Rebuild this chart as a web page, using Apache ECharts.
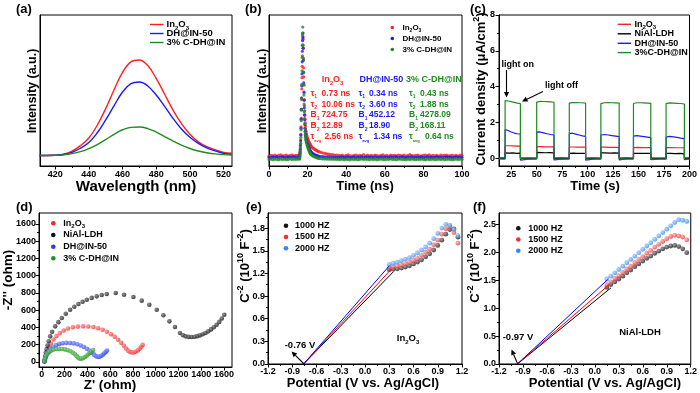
<!DOCTYPE html>
<html><head><meta charset="utf-8">
<script src="https://cdn.jsdelivr.net/npm/echarts@6/dist/echarts.min.js"></script>
<style>html,body{margin:0;padding:0;background:#fff}#c{width:700px;height:393px}</style>
</head><body><div id="c"></div>
<script>
// ================= DATA =================
// (a) steady-state PL
const plWavelength = [410,415,420,425,430,435,440,445,450,455,460,465,470,475,480,485,490,495,500,505,510,515,520,525];
const plIn2O3 = [7.0,7.0,7.1,7.8,9.8,13.5,18.5,27.0,38.0,50.5,62.0,69.0,70.2,66.5,58.0,47.5,37.0,28.0,21.0,16.0,12.8,10.8,9.0,8.4];
const plDH50  = [7.0,7.0,7.1,7.6,9.0,11.8,15.5,22.0,30.5,40.0,49.0,54.5,55.6,53.0,47.0,39.5,31.5,24.5,19.0,15.0,12.0,10.0,8.4,7.7];
const plCDH   = [7.0,7.0,7.1,7.4,8.2,9.5,11.5,14.2,17.5,21.0,24.0,25.6,25.8,24.8,22.5,19.5,16.5,13.8,11.6,9.9,8.8,8.0,7.5,7.3];

// (b) TRPL decay
const trplTime = [0,1,2,3,4,5,6,7,8,9,10,11,12,13,14,15,
 15.8,15.9,16,16.1,16.2,16.3,16.4,16.5,16.6,16.7,16.8,16.9,17,17.1,17.2,17.3,17.4,17.5,17.6,17.7,17.8,17.9,18,18.1,18.2,18.3,18.4,18.5,18.6,18.7,18.8,18.9,19,
 19.2,19.4,19.6,19.8,20,20.2,20.4,20.6,20.8,21,21.2,21.4,21.6,21.8,22,
 22.5,23,23.5,24,24.5,25,25.5,26,
 27,28,29,30,31,32,33,34,35,36,37,38,39,40,41,42,43,44,45,46,47,48,49,50,51,52,53,54,55,56,57,58,59,60,61,62,63,64,65,66,67,68,69,70,71,72,73,74,75,76,77,78,79,80,81,82,83,84,85,86,87,88,89,90,91,92,93,94,95,96,97,98,99,100];
const trplIn2O3 = [6.6,7.1,6.8,7.3,6.5,7.0,7.4,6.7,6.9,7.2,6.6,7.0,7.3,6.8,7.1,7.0,
 7,7.5,8.5,10,12,14.5,17.5,21,26,31.5,37.5,44,51,58.5,66,73,80,86,84,78,71.5,65,59,53.5,48.5,44,40,36.5,33.5,31,28.5,26.5,24.5,
 23,21.5,20.3,19.2,18.3,17.5,16.8,16.2,15.6,15,14.5,14,13.5,13.1,12.7,
 12.2,11.7,11.2,10.8,10.4,10,9.7,9.4,
 9.0,8.6,8.3,8.0,7.8,7.6,7.5,7.3,7.2,7.1,
 6.9,7.2,6.6,7.0,7.4,6.8,6.5,7.1,7.3,6.7,7.0,6.9,7.5,6.6,7.2,6.8,
 7.0,6.7,7.3,6.9,6.6,7.1,7.4,6.8,7.0,6.5,7.2,6.9,7.1,6.7,7.3,7.0,
 6.8,7.2,6.6,7.0,7.5,6.9,6.7,7.1,7.3,6.8,6.6,7.0,7.2,6.9,7.4,6.7,
 7.0,6.8,7.1,6.6,7.3,6.9,7.0,7.2,6.7,6.9,7.1,6.8,7.0,6.6,7.2,6.9];
const trplDH50 = [5.7,5.5,6.0,5.8,6.2,5.6,5.9,6.1,5.5,5.8,6.0,5.7,5.9,6.1,5.6,5.9,
 6,6.5,7.5,9,11,13.5,16.5,20.5,25,31,37.5,45,53,61,69,76,83,88,85,78,70,62,55,49,43.5,38.5,34,30.5,27.5,25,23,21,19.5,
 18,16.8,15.8,15,14.2,13.5,12.8,12.2,11.6,11,10.5,10,9.6,9.2,8.8,
 8.4,8.0,7.6,7.3,7.0,6.8,6.6,6.4,
 6.3,6.2,6.1,6.0,6.0,5.9,5.9,5.8,5.8,5.8,
 5.7,6.0,5.5,5.9,6.1,5.6,5.8,6.0,5.5,5.9,5.7,6.1,5.6,5.8,6.0,5.7,
 5.9,5.5,6.0,5.8,5.6,6.1,5.7,5.9,5.8,5.5,6.0,5.7,5.9,6.1,5.6,5.8,
 6.0,5.7,5.5,5.9,5.8,6.1,5.6,5.8,5.9,5.7,6.0,5.5,5.8,6.0,5.7,5.9,
 5.6,5.8,6.1,5.7,5.9,5.5,5.8,6.0,5.7,5.9,5.6,5.8,6.0,5.7,5.9,5.8];
const trplCDH = [4.3,4.6,4.2,4.5,4.4,4.1,4.6,4.3,4.5,4.2,4.4,4.7,4.3,4.5,4.4,4.6,
 4.5,5,6,7.5,9.5,12,15,19,24,30,37,45,54,63,72,80,87,92,88,80,71,62,54,47,41,36,31.5,28,25,22.5,20.5,19,17.5,
 16.5,15.5,14.5,13.5,12.8,12,11.3,10.6,10,9.4,8.9,8.4,8.0,7.6,7.3,
 6.9,6.5,6.2,5.9,5.6,5.4,5.2,5.0,
 4.8,4.7,4.7,4.6,4.6,4.5,4.5,4.5,4.4,4.4,
 4.3,4.6,4.2,4.5,4.4,4.1,4.6,4.3,4.5,4.2,4.4,4.7,4.3,4.5,4.4,4.2,
 4.6,4.3,4.5,4.1,4.4,4.6,4.3,4.2,4.5,4.4,4.7,4.3,4.4,4.2,4.5,4.6,
 4.3,4.4,4.1,4.5,4.3,4.6,4.4,4.2,4.5,4.3,4.6,4.4,4.1,4.5,4.3,4.4,
 4.6,4.2,4.4,4.5,4.3,4.6,4.2,4.4,4.5,4.3,4.1,4.4,4.6,4.3,4.5,4.4];
const trplLabels = ['In₂O₃','DH@IN-50','3% C-DH@IN'];
const fitIn2O3 = ['0.73 ns','10.06 ns','724.75','12.89','2.56 ns'];
const fitDH50  = ['0.34 ns','3.60 ns','452.12','18.90','1.34 ns'];
const fitCDH   = ['0.43 ns','1.88 ns','4278.09','168.11','0.64 ns'];

// (c) transient photocurrent: light on / off times and plateau readings
const pcStart = 13, pcEnd = 200;
const pcOn  = [19,50,82,113,145,177];
const pcOff = [34,67,98,131,162,195];
const pcIn2O3On = [[0.70,0.70,0.69,0.68,0.68],[0.65,0.65,0.64,0.64,0.64],[0.63,0.63,0.62,0.62,0.62],[0.62,0.62,0.61,0.61,0.61],[0.60,0.61,0.60,0.60,0.60],[0.60,0.60,0.59,0.59,0.59]];
const pcIn2O3Off = [[0.01,0.02,0.01],[0.01,0.02,0.01],[0.02,0.01,0.01],[0.01,0.02,0.01],[0.02,0.01,0.01],[0.01,0.01,0.02],[0.01,0.02]];
const pcLDHOn = [[0.30,0.29,0.30,0.28,0.29],[0.33,0.32,0.31,0.32,0.30],[0.28,0.29,0.27,0.28,0.27],[0.31,0.30,0.29,0.30,0.29],[0.28,0.27,0.28,0.27,0.27],[0.28,0.27,0.26,0.27,0.25]];
const pcLDHOff = [[0.00,0.01,0.00],[0.01,0.00,0.01],[0.00,0.01,0.00],[0.01,0.00,0.01],[0.00,0.01,0.00],[0.01,0.00,0.00],[0.00,0.01]];
const pcDH50On = [[1.60,1.55,1.47,1.41,1.37,1.35],[1.46,1.47,1.42,1.37,1.33,1.30],[1.38,1.40,1.35,1.30,1.25,1.22],[1.30,1.33,1.30,1.27,1.24,1.21],[1.24,1.27,1.24,1.21,1.18,1.15],[1.18,1.22,1.20,1.17,1.13,1.10]];
const pcDH50Off = [[-0.02,-0.03,-0.03],[-0.10,-0.05,-0.03],[-0.09,-0.05,-0.03],[-0.10,-0.05,-0.04],[-0.09,-0.04,-0.03],[-0.08,-0.05,-0.03],[-0.08,-0.04]];
const pcCDHOn = [[3.22,3.20,3.16,3.12,3.08,3.05],[3.14,3.18,3.17,3.16,3.15,3.13],[3.08,3.11,3.11,3.10,3.10,3.08],[3.05,3.10,3.11,3.10,3.09,3.08],[3.06,3.10,3.10,3.09,3.08,3.07],[3.05,3.09,3.08,3.07,3.06,3.03]];
const pcCDHOff = [[-0.03,-0.04,-0.03],[-0.02,-0.05,-0.04],[-0.03,-0.05,-0.04],[-0.03,-0.04,-0.05],[-0.02,-0.05,-0.04],[-0.03,-0.04,-0.05],[-0.04,-0.05]];
const pcLabels = ['In₂O₃','NiAl-LDH','DH@IN-50','3%C-DH@IN'];

// (d) Nyquist plots [Z', -Z'']
const eisIn2O3 = [[22,5],[28,40],[36,80],[48,125],[62,170],[80,215],[102,260],[128,300],[158,335],[192,365],[230,388],[272,402],[316,410],[362,413],[408,412],[452,405],[494,392],[534,373],[572,350],[608,322],[640,292],[670,258],[697,222],[720,187],[740,155],[758,130],[775,115],[792,110],[810,112],[828,122],[845,137],[860,155],[873,176],[885,198]];
const eisLDH = [[22,8],[26,30],[29,65],[35,110],[42,150],[50,190],[60,240],[73,297],[90,350],[117,413],[145,462],[175,510],[210,560],[248,606],[285,641],[321,672],[358,698],[395,722],[438,743],[482,761],[526,776],[570,788],[649,800],[722,780],[804,753],[877,711],[944,664],[1009,606],[1067,541],[1120,471],[1169,406],[1213,336],[1240,310],[1263,297],[1290,291],[1316,290],[1343,293],[1366,300],[1389,309],[1413,322],[1437,336],[1461,355],[1486,378],[1510,403],[1535,432],[1558,465],[1580,505],[1602,548]];
const eisDH50 = [[22,5],[27,35],[35,65],[46,95],[60,125],[78,152],[100,177],[125,196],[153,210],[183,218],[215,222],[248,221],[280,216],[312,206],[342,192],[370,174],[396,153],[420,129],[441,106],[459,85],[475,68],[491,60],[507,62],[522,72],[536,86],[549,102],[561,117],[572,132]];
const eisCDH = [[25,10],[30,40],[38,70],[50,95],[65,117],[83,133],[104,144],[127,150],[152,152],[178,151],[204,146],[229,137],[252,124],[273,108],[291,90],[306,70],[318,52],[330,40],[345,38],[362,45],[378,58],[393,74],[408,90],[422,106],[436,122],[450,138]];
const eisLabels = ['In₂O₃','NiAl-LDH','DH@IN-50','3% C-DH@IN'];

// (e) Mott-Schottky In2O3
const msPotE = [0.30,0.35,0.40,0.45,0.50,0.55,0.60,0.65,0.70,0.75,0.80,0.85,0.90,0.95,1.00,1.05,1.10,1.15];
const msE1000 = [1.25,1.255,1.26,1.27,1.285,1.30,1.325,1.35,1.38,1.42,1.46,1.51,1.57,1.64,1.72,1.78,1.79,1.68];
const msE1500 = [1.28,1.29,1.30,1.315,1.33,1.35,1.375,1.40,1.44,1.48,1.52,1.58,1.64,1.72,1.79,1.82,1.74,1.60];
const msE2000 = [1.32,1.335,1.35,1.37,1.39,1.41,1.44,1.47,1.51,1.55,1.60,1.66,1.73,1.80,1.85,1.84,1.78,1.70];
const msEFit = {f1000: [[-0.76,0],[0.35,1.22]], f1500: [[-0.76,0],[0.32,1.25]], f2000: [[-0.76,0],[0.30,1.30]]};
// (f) Mott-Schottky NiAl-LDH
const msPotF = [0.15,0.20,0.25,0.30,0.35,0.40,0.45,0.50,0.55,0.60,0.65,0.70,0.75,0.80,0.85,0.90,0.95,1.00,1.05,1.10,1.15];
const msF1000 = [1.37,1.42,1.47,1.52,1.57,1.63,1.68,1.74,1.79,1.84,1.89,1.93,1.98,2.02,2.06,2.09,2.11,2.12,2.10,2.06,1.99];
const msF1500 = [1.42,1.47,1.53,1.58,1.64,1.70,1.75,1.81,1.87,1.92,1.98,2.03,2.09,2.14,2.19,2.24,2.28,2.30,2.29,2.27,2.22];
const msF2000 = [1.52,1.57,1.63,1.69,1.75,1.81,1.87,1.93,1.99,2.05,2.11,2.17,2.23,2.29,2.35,2.41,2.47,2.53,2.58,2.57,2.55];
const msFFit = {f1000: [[-0.97,0],[0.20,1.36]], f1500: [[-0.97,0],[0.18,1.42]], f2000: [[-0.97,0],[0.16,1.51]]};
const msLabels = ['1000 HZ','1500 HZ','2000 HZ'];

// tick values
const tkA = [420,440,460,480,500,520], tkAm = [430,450,470,490,510];
const tkB = [0,20,40,60,80,100], tkBm = [10,30,50,70,90];
const tkCx = [25,50,75,100,125,150,175,200], tkCxm = [37.5,62.5,87.5,112.5,137.5,162.5,187.5];
const tkCy = [0,2,4,6,8], tkCym = [1,3,5,7];
const tkD = [0,200,400,600,800,1000,1200,1400,1600], tkDm = [100,300,500,700,900,1100,1300,1500];
const tkMSx = [-1.2,-0.9,-0.6,-0.3,0,0.3,0.6,0.9,1.2], tkMSxm = [-1.05,-0.75,-0.45,-0.15,0.15,0.45,0.75,1.05];
const tkEy = [0,0.3,0.6,0.9,1.2,1.5,1.8], tkEym = [0.15,0.45,0.75,1.05,1.35,1.65,1.95];
const tkFy = [0,0.5,1,1.5,2,2.5], tkFym = [0.25,0.75,1.25,1.75,2.25];

// ================= CHART =================
const FONT = '"Liberation Sans", Arial, Helvetica, sans-serif';
const RED = '#ff1f1f', BLUE = '#1a1aff', GREEN = '#1f8c1f', BLACK = '#000';

const grids = [
  {left:40, top:15, width:192, height:151},
  {left:269, top:15, width:193, height:151},
  {left:499, top:15, width:193, height:151},
  {left:39, top:213, width:193, height:154},
  {left:268, top:213, width:194, height:151},
  {left:499, top:213, width:193, height:151}
].map(g => Object.assign(g, {show:true, borderColor:'#000', borderWidth:1, backgroundColor:'transparent'}));

const xAxes = [], yAxes = [];
function axis(list, gi, min, max, labels, minor, fmt, margin, pos) {
  list.push({
    type:'value', gridIndex:gi, min, max, position:pos,
    axisLine:{show:true, onZero:false, lineStyle:{color:'#000', width:1}},
    axisTick:{show:!!labels, inside:false, length:3.5, customValues:labels || undefined, lineStyle:{color:'#000', width:1}},
    axisLabel:{show:!!labels, customValues:labels || undefined, margin:margin, fontSize:9, fontWeight:'bold', fontFamily:FONT, color:'#000', formatter:fmt || (v => String(v))},
    splitLine:{show:false}
  });
  const idx = list.length - 1;
  if (minor) {
    list.push({
      type:'value', gridIndex:gi, min, max, position:pos,
      axisLine:{show:false, onZero:false}, axisLabel:{show:false}, splitLine:{show:false},
      axisTick:{show:true, inside:false, length:2, customValues:minor, lineStyle:{color:'#000', width:1}}
    });
  }
  return idx;
}
const f1 = v => v.toFixed(1);
const ax = {};
ax.ax = axis(xAxes, 0, 411, 525, tkA, tkAm, null, 4, 'bottom');
ax.ay = axis(yAxes, 0, 0, 100, null, null, null, 4, 'left');
ax.bx = axis(xAxes, 1, 0, 100, tkB, tkBm, null, 4, 'bottom');
ax.by = axis(yAxes, 1, 0, 100, null, null, null, 4, 'left');
ax.cx = axis(xAxes, 2, 13, 200, tkCx, tkCxm, null, 4, 'bottom');
ax.cy = axis(yAxes, 2, -0.43, 8, tkCy, tkCym, null, 4, 'left');
ax.dx = axis(xAxes, 3, -25, 1670, tkD, tkDm, null, 3, 'bottom');
ax.dy = axis(yAxes, 3, -58, 1727, tkD, tkDm, null, 3, 'left');
ax.ex = axis(xAxes, 4, -1.2, 1.2, tkMSx, tkMSxm, f1, 3, 'bottom');
ax.ey = axis(yAxes, 4, 0, 2.0, tkEy, tkEym, f1, 3, 'left');
ax.fx = axis(xAxes, 5, -1.2, 1.2, tkMSx, tkMSxm, f1, 3, 'bottom');
ax.fy = axis(yAxes, 5, 0, 2.7, tkFy, tkFym, f1, 3, 'left');

const zip = (xs, ys) => xs.map((x, i) => [x, ys[i]]);
function pulseData(plat, offs) {
  const d = [];
  for (let k = 0; k <= pcOn.length; k++) {
    const s = k === 0 ? pcStart : pcOff[k - 1];
    const e = k === pcOn.length ? pcEnd : pcOn[k];
    const o = offs[k];
    o.forEach((v, j) => d.push([s + (e - s) * j / (o.length - 1), v]));
    if (k < pcOn.length) {
      const p = plat[k];
      p.forEach((v, j) => d.push([pcOn[k] + (pcOff[k] - pcOn[k]) * j / (p.length - 1), v]));
    }
  }
  return d;
}
function ball(c, hi) {
  return {type:'radial', x:0.35, y:0.35, r:0.7, colorStops:[{offset:0, color:hi},{offset:1, color:c}]};
}

const series = [];
const L = (xi, yi, data, color, w, extra) => series.push(Object.assign({type:'line', xAxisIndex:xi, yAxisIndex:yi, data, showSymbol:false, symbol:'none', lineStyle:{color, width:w}, silent:true}, extra || {}));
const S = (xi, yi, data, color, size) => series.push({type:'scatter', xAxisIndex:xi, yAxisIndex:yi, data, symbolSize:size, itemStyle:{color}, silent:true});

// (a)
L(ax.ax, ax.ay, zip(plWavelength, plIn2O3), RED, 1.4, {smooth:0.4});
L(ax.ax, ax.ay, zip(plWavelength, plDH50), BLUE, 1.4, {smooth:0.4});
L(ax.ax, ax.ay, zip(plWavelength, plCDH), GREEN, 1.4, {smooth:0.4});
// (b)
S(ax.bx, ax.by, zip(trplTime, trplIn2O3), RED, 3.2);
S(ax.bx, ax.by, zip(trplTime, trplDH50), BLUE, 3.2);
S(ax.bx, ax.by, zip(trplTime, trplCDH), GREEN, 3.2);
// (c)
L(ax.cx, ax.cy, pulseData(pcIn2O3On, pcIn2O3Off), RED, 1.2);
L(ax.cx, ax.cy, pulseData(pcLDHOn, pcLDHOff), BLACK, 1.2);
L(ax.cx, ax.cy, pulseData(pcDH50On, pcDH50Off), BLUE, 1.2);
L(ax.cx, ax.cy, pulseData(pcCDHOn, pcCDHOff), GREEN, 1.2);
// (d)
S(ax.dx, ax.dy, eisIn2O3, ball('#f42a2a', '#ff9090'), 4.6);
S(ax.dx, ax.dy, eisLDH, ball('#111', '#777'), 4.6);
S(ax.dx, ax.dy, eisDH50, ball('#2a3cff', '#8fa0ff'), 4.6);
S(ax.dx, ax.dy, eisCDH, ball('#238e23', '#7fd07f'), 4.6);
// (e)
L(ax.ex, ax.ey, msEFit.f1000, BLACK, 1);
L(ax.ex, ax.ey, msEFit.f1500, '#ff0000', 1);
L(ax.ex, ax.ey, msEFit.f2000, '#0000ff', 1);
S(ax.ex, ax.ey, zip(msPotE, msE1000), ball('#151515', '#888'), 4.8);
S(ax.ex, ax.ey, zip(msPotE, msE1500), ball('#ee3030', '#ffaaaa'), 4.8);
S(ax.ex, ax.ey, zip(msPotE, msE2000), ball('#3388e8', '#a8d0ff'), 4.8);
// (f)
L(ax.fx, ax.fy, msFFit.f1000, BLACK, 1);
L(ax.fx, ax.fy, msFFit.f1500, '#ff0000', 1);
L(ax.fx, ax.fy, msFFit.f2000, '#0000ff', 1);
S(ax.fx, ax.fy, zip(msPotF, msF1000), ball('#151515', '#888'), 4.8);
S(ax.fx, ax.fy, zip(msPotF, msF1500), ball('#ee3030', '#ffaaaa'), 4.8);
S(ax.fx, ax.fy, zip(msPotF, msF2000), ball('#3388e8', '#a8d0ff'), 4.8);

// ---------- text / annotation graphics ----------
function richSet(fs, color, subScale) {
  const b = {fontWeight:'bold', fontFamily:FONT, fill:color};
  const s = Math.round(fs * (subScale || 0.66));
  return {
    sub: Object.assign({}, b, {fontSize:s, lineHeight:s, verticalAlign:'bottom'}),
    sup: Object.assign({}, b, {fontSize:s, lineHeight:s, verticalAlign:'top'}),
    t: Object.assign({}, b, {fontSize:Math.max(4, Math.round(fs * 0.5)), lineHeight:Math.round(fs * 0.5), verticalAlign:'bottom'})
  };
}
// convert unicode sub digits into rich markup
function mk(s) {
  return s.replace(/₂/g, '{sub|2}').replace(/₃/g, '{sub|3}');
}
const G = [];
function T(x, y, text, o) {
  o = o || {};
  const fs = o.fs || 9, color = o.color || '#000';
  G.push({type:'text', x, y, rotation:o.rot || 0, silent:true, z:100,
    style:{text, fontSize:fs, fontWeight:'bold', fontFamily:FONT, fill:color,
      align:o.align || 'left', verticalAlign:'middle', lineHeight:Math.round(fs * 1.4), rich:richSet(fs, color, o.sub)}});
}
function Ln(x1, y1, x2, y2, c, w) { G.push({type:'line', z:100, silent:true, shape:{x1, y1, x2, y2}, style:{stroke:c, lineWidth:w || 1.3}}); }
function Dot(cx, cy, r, c) { G.push({type:'circle', z:100, silent:true, shape:{cx, cy, r}, style:{fill:c}}); }
function Arrow(x1, y1, x2, y2) {
  const a = Math.atan2(y2 - y1, x2 - x1), LL = 5.5, W = 2.6;
  const bx = x2 - LL * Math.cos(a), by = y2 - LL * Math.sin(a);
  const px = -Math.sin(a) * W, py = Math.cos(a) * W;
  Ln(x1, y1, bx, by, '#000', 1.1);
  G.push({type:'polygon', z:100, silent:true, shape:{points:[[x2, y2], [bx + px, by + py], [bx - px, by - py]]}, style:{fill:'#000'}});
}
const RV = Math.PI / 2;

// panel letters
T(16, 9, '(a)', {fs:13}); T(245, 9, '(b)', {fs:13}); T(470, 9, '(c)', {fs:13});
T(16, 207, '(d)', {fs:13}); T(246, 207, '(e)', {fs:13}); T(473, 207, '(f)', {fs:13});

// axis names
T(136, 186.5, 'Wavelength (nm)', {fs:15, align:'center'});
T(33, 91, 'Intensity (a.u.)', {fs:12.5, align:'center', rot:RV});
T(365, 186.5, 'Time (ns)', {fs:13, align:'center'});
T(262.5, 91, 'Intensity (a.u.)', {fs:12.5, align:'center', rot:RV});
T(595, 186.5, 'Time (s)', {fs:13, align:'center'});
T(481, 89, 'Current density (μA/cm{sup|2})', {fs:13, align:'center', rot:RV});
T(110, 385, "Z' (ohm)", {fs:13.5, align:'center'});
T(8, 280, "-Z'' (ohm)", {fs:13.5, align:'center', rot:RV});
T(363, 383, 'Potential (V vs. Ag/AgCl)', {fs:13, align:'center'});
T(245, 266, 'C{sup|-2} (10{sup|10} F{sup|-2})', {fs:13, align:'center', rot:RV});
T(605, 383, 'Potential (V vs. Ag/AgCl)', {fs:13, align:'center'});
T(475, 266, 'C{sup|-2} (10{sup|10} F{sup|-2})', {fs:13, align:'center', rot:RV});

// legend (a)
[[RED, 24.5], [BLUE, 33.5], [GREEN, 42.5]].forEach(([c, y], i) => { Ln(150, y, 163.5, y, c, 1.4); T(166.5, y, mk(trplLabels[i]), {fs:9.5}); });
// legend (b)
[[RED, 27.5], [BLUE, 38.5], [GREEN, 49.5]].forEach(([c, y], i) => { Dot(392.3, y, 1.8, c); T(402.5, y, mk(trplLabels[i]), {fs:8}); });
// TRPL fit table
T(332.5, 80, mk('In₂O₃'), {fs:9, color:RED, align:'center'});
T(359.5, 80, 'DH@IN-50', {fs:9, color:BLUE});
T(406, 80, '3% C-DH@IN', {fs:9, color:GREEN});
const rowY = [93.5, 104.5, 115, 126, 137];
const sym = ['τ{sub|1}', 'τ{sub|2}', 'B{sub|1}', 'B{sub|2}', 'τ{t|avg}'];
[[fitIn2O3, RED, 310.5, 321.5, 324.5], [fitDH50, BLUE, 358.5, 369, 373.5], [fitCDH, GREEN, 409, 420, 425]].forEach(([vals, c, sx, vx, vx2]) => {
  vals.forEach((v, r) => { T(sx, rowY[r], sym[r], {fs:8.5, color:c, sub:0.56}); T(r === 4 ? vx2 : vx, rowY[r], v, {fs:8.5, color:c}); });
});
// legend (c)
[[RED, 24.3], [BLACK, 33.8], [BLUE, 43.3], [GREEN, 52.6]].forEach(([c, y], i) => { Ln(617.7, y, 631, y, c, 1.4); T(634.5, y, mk(pcLabels[i]), {fs:9}); });
T(501.5, 64.5, 'light on', {fs:9});
Arrow(506.5, 70, 506.5, 97.5);
T(545, 86, 'light off', {fs:9});
Arrow(543, 91.5, 522, 101.5);
// legend (d)
[['#f42a2a', 223.3], ['#111', 235], ['#2a3cff', 246.7], ['#238e23', 258.3]].forEach(([c, y], i) => { Dot(53.3, y, 2.3, c); T(63.3, y, mk(eisLabels[i]), {fs:9}); });
// legend (e)
[['#151515', 225.7], ['#ee3030', 237], ['#3388e8', 248.3]].forEach(([c, y], i) => { Dot(286, y, 2.3, c); T(295, y, msLabels[i], {fs:9}); });
T(300, 345, '-0.76 V', {fs:9.5, align:'center'});
Arrow(303.6, 363.5, 291.5, 351.5);
T(408, 338.5, mk('In₂O₃'), {fs:9.5, align:'center'});
// legend (f)
[['#151515', 228.3], ['#ee3030', 239.5], ['#3388e8', 250.7]].forEach(([c, y], i) => { Dot(518.3, y, 2.3, c); T(528.3, y, msLabels[i], {fs:9}); });
T(518, 337, '-0.97 V', {fs:9.5, align:'center'});
Arrow(517.5, 363.5, 511.5, 349.5);
T(640, 332, 'NiAl-LDH', {fs:9.5, align:'center'});

const chart = echarts.init(document.getElementById('c'), null, {renderer:'canvas'});
chart.setOption({
  animation:false,
  backgroundColor:'#fff',
  grid:grids, xAxis:xAxes, yAxis:yAxes, series, graphic:G
});
</script></body></html>
